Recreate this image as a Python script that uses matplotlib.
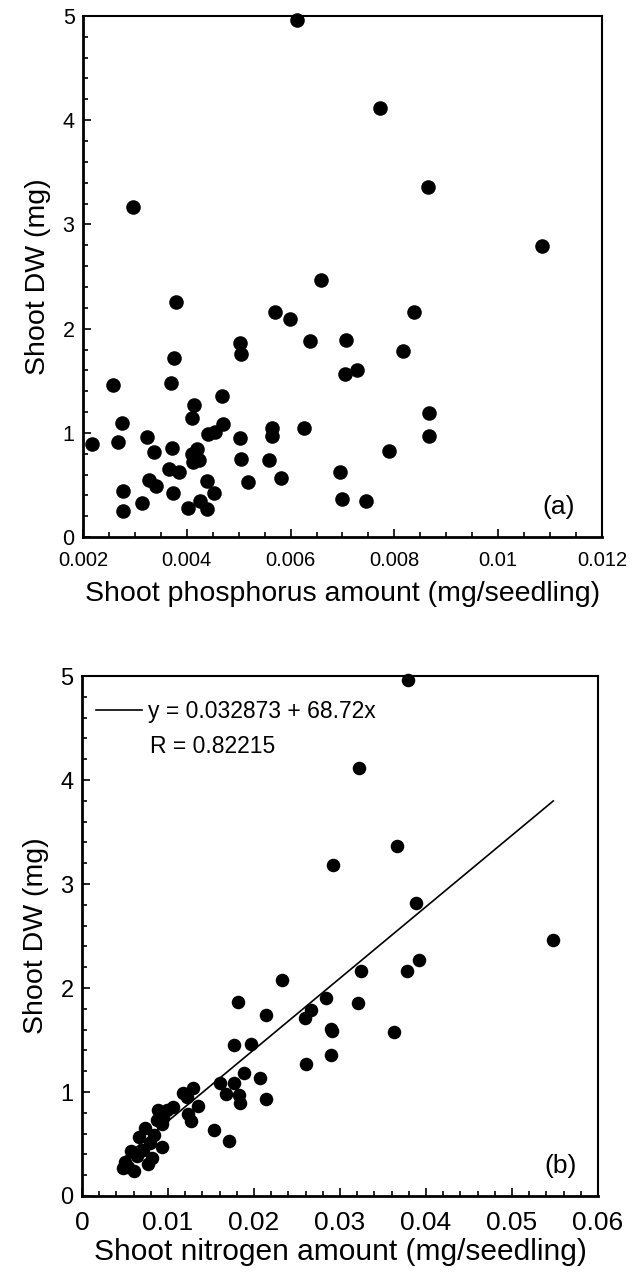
import matplotlib
matplotlib.use("Agg")
import matplotlib.pyplot as plt
from matplotlib.ticker import FixedLocator, MultipleLocator

plt.rcParams["font.family"] = ["Liberation Sans", "DejaVu Sans"]

# %%
# Panel (a): shoot phosphorus vs shoot dry weight
p_amount = [
    0.00612, 0.00772, 0.00865, 0.01084, 0.00659, 0.00296, 0.00379, 0.00570,
    0.00599, 0.00637, 0.00707, 0.00503, 0.00504, 0.00375, 0.00258, 0.00370,
    0.00468, 0.00414, 0.00410, 0.00275, 0.00470, 0.00454, 0.00441, 0.00217,
    0.00267, 0.00323, 0.00337, 0.00371, 0.00410, 0.00420, 0.00412, 0.00424,
    0.00366, 0.00385, 0.00503, 0.00504, 0.00564, 0.00564, 0.00626, 0.00558,
    0.00581, 0.00518, 0.00327, 0.00341, 0.00277, 0.00439, 0.00373, 0.00452,
    0.00425, 0.00314, 0.00277, 0.00402, 0.00439, 0.00695, 0.00699, 0.00705,
    0.00728, 0.00838, 0.00817, 0.00867, 0.00867, 0.00790, 0.00745,
]
p_dw = [
    4.96, 4.12, 3.36, 2.79, 2.47, 3.17, 2.26, 2.16,
    2.09, 1.88, 1.89, 1.86, 1.76, 1.72, 1.46, 1.48,
    1.35, 1.27, 1.14, 1.10, 1.09, 1.01, 0.99, 0.89,
    0.91, 0.96, 0.82, 0.86, 0.80, 0.85, 0.72, 0.74,
    0.65, 0.63, 0.95, 0.75, 1.05, 0.97, 1.05, 0.74,
    0.57, 0.53, 0.55, 0.49, 0.44, 0.54, 0.42, 0.42,
    0.35, 0.33, 0.25, 0.28, 0.27, 0.63, 0.37, 1.57,
    1.60, 2.16, 1.79, 1.19, 0.97, 0.83, 0.35,
]

# %%
# Panel (b): shoot nitrogen vs shoot dry weight
n_amount = [
    0.0379, 0.0322, 0.0366, 0.0292, 0.0388, 0.0548, 0.0392, 0.0324,
    0.0378, 0.0284, 0.0321, 0.0266, 0.0259, 0.0289, 0.0363, 0.0290,
    0.0260, 0.0233, 0.0181, 0.0214, 0.0291, 0.0177, 0.0196, 0.0188,
    0.0207, 0.0177, 0.0161, 0.0167, 0.0183, 0.0184, 0.0214, 0.0153,
    0.0171, 0.0129, 0.0117, 0.0122, 0.0135, 0.0123, 0.0127, 0.0106,
    0.0099, 0.0088, 0.0094, 0.0087, 0.0073, 0.0093, 0.0066, 0.0084,
    0.0079, 0.0093, 0.0071, 0.0057, 0.0064, 0.0077, 0.0050, 0.0048,
    0.0060, 0.0053, 0.0081,
]
n_dw = [
    4.96, 4.12, 3.37, 3.18, 2.82, 2.46, 2.27, 2.16,
    2.16, 1.90, 1.86, 1.79, 1.71, 1.61, 1.58, 1.36,
    1.27, 2.08, 1.87, 1.74, 1.59, 1.45, 1.46, 1.18,
    1.13, 1.09, 1.09, 0.98, 0.97, 0.89, 0.93, 0.63,
    0.53, 1.04, 0.99, 0.95, 0.87, 0.79, 0.72, 0.86,
    0.83, 0.83, 0.75, 0.73, 0.65, 0.69, 0.57, 0.59,
    0.51, 0.47, 0.44, 0.43, 0.38, 0.31, 0.33, 0.27,
    0.24, 0.28, 0.37,
]
fit_intercept = 0.032873
fit_slope = 68.72
fit_r = 0.82215

a_xticks = [0.002, 0.004, 0.006, 0.008, 0.01, 0.012]
a_xticklabels = ["0.002", "0.004", "0.006", "0.008", "0.01", "0.012"]
b_xticks = [0, 0.01, 0.02, 0.03, 0.04, 0.05, 0.06]
b_xticklabels = ["0", "0.01", "0.02", "0.03", "0.04", "0.05", "0.06"]
yticks = [0, 1, 2, 3, 4, 5]


def style_axes(ax, minor_x, xfont, yfont, xpad):
    ax.spines["left"].set_linewidth(2.0)
    ax.spines["bottom"].set_linewidth(2.0)
    ax.spines["top"].set_linewidth(1.5)
    ax.spines["right"].set_linewidth(1.5)
    ax.xaxis.set_minor_locator(MultipleLocator(minor_x))
    ax.yaxis.set_minor_locator(MultipleLocator(0.2))
    ax.tick_params(which="both", direction="in", top=False, right=False,
                   width=1.2, color="black")
    ax.tick_params(which="major", length=6)
    ax.tick_params(which="minor", length=3.5)
    ax.tick_params(axis="x", labelsize=xfont, pad=xpad)
    ax.tick_params(axis="y", labelsize=yfont, pad=6)


fig = plt.figure(figsize=(6.38, 12.76), dpi=100)

ax1 = fig.add_axes([0.130, 0.579, 0.8136, 0.4085])
ax1.scatter(p_amount, p_dw, s=110, color="black", linewidths=0, clip_on=False, zorder=3)
ax1.set_xlim(0.002, 0.012)
ax1.set_ylim(0, 5)
ax1.xaxis.set_major_locator(FixedLocator(a_xticks))
ax1.set_xticklabels(a_xticklabels)
ax1.set_yticks(yticks)
style_axes(ax1, 0.0005, 14.5, 15.5, 10)
ax1.set_xlabel("Shoot phosphorus amount (mg/seedling)", fontsize=20.5, labelpad=8)
ax1.set_ylabel("Shoot DW (mg)", fontsize=20.5, labelpad=8)
ax1.text(0.948, 0.035, "(a)", transform=ax1.transAxes, fontsize=19,
         ha="right", va="bottom")

ax2 = fig.add_axes([0.1285, 0.0627, 0.8088, 0.4075])
ax2.scatter(n_amount, n_dw, s=95, color="black", linewidths=0, clip_on=False, zorder=3)
fit_x = [min(n_amount), max(n_amount)]
fit_y = [fit_intercept + fit_slope * v for v in fit_x]
ax2.plot(fit_x, fit_y, color="black", linewidth=1.2,
         label=f"y = {fit_intercept} + {fit_slope}x")
ax2.set_xlim(0, 0.06)
ax2.set_ylim(0, 5)
ax2.xaxis.set_major_locator(FixedLocator(b_xticks))
ax2.set_xticklabels(b_xticklabels)
ax2.set_yticks(yticks)
style_axes(ax2, 0.002, 19, 17, 11)
ax2.set_xlabel("Shoot nitrogen amount (mg/seedling)", fontsize=21.5, labelpad=2)
ax2.set_ylabel("Shoot DW (mg)", fontsize=20.5, labelpad=8)
ax2.legend(loc="upper left", frameon=False, fontsize=16.5, handlelength=2.0,
           handletextpad=0.3, borderaxespad=0.2, bbox_to_anchor=(0.0, 0.98))
ax2.text(0.132, 0.865, f"R = {fit_r}", transform=ax2.transAxes, fontsize=16.5,
         ha="left", va="center")
ax2.text(0.958, 0.035, "(b)", transform=ax2.transAxes, fontsize=19,
         ha="right", va="bottom")

fig.savefig("out.png", dpi=100, facecolor="white")
